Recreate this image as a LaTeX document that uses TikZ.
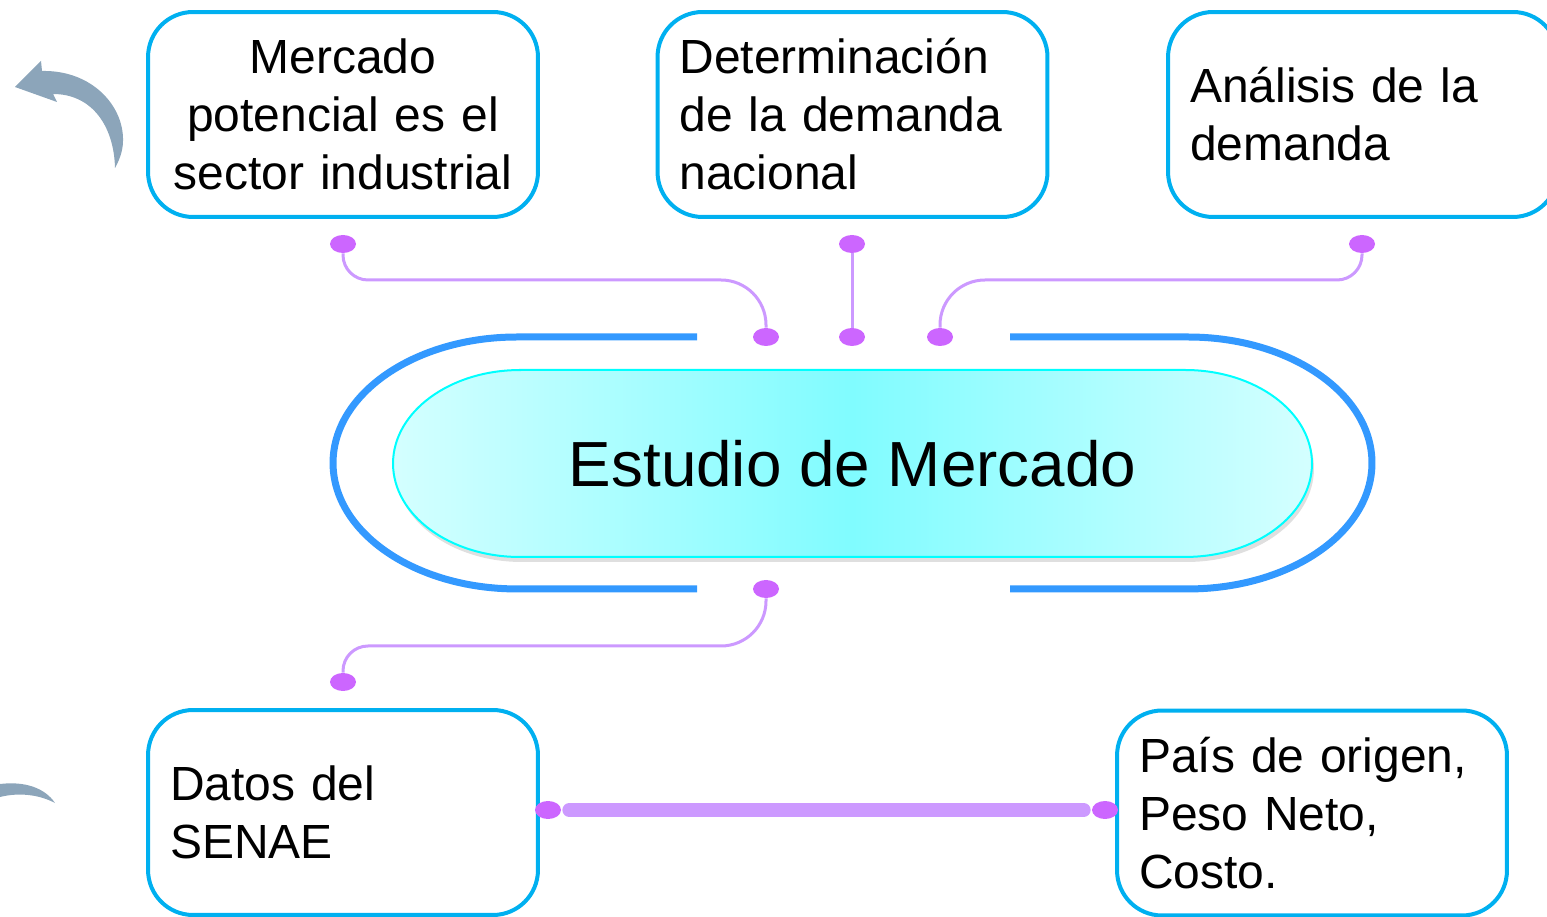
\documentclass[tikz,border=0pt]{standalone}
\usepackage{fontspec}
\setmainfont{Liberation Sans}
\usetikzlibrary{shapes.geometric,shadows}
\definecolor{boxblue}{RGB}{0,176,240}
\definecolor{ringblue}{RGB}{51,153,255}
\definecolor{dotpurple}{RGB}{204,102,255}
\definecolor{linkpurple}{RGB}{204,153,255}
\definecolor{arrowgray}{RGB}{140,165,186}
\definecolor{pilllight}{RGB}{212,255,255}
\definecolor{pillmid}{RGB}{128,252,255}
\definecolor{pilledge}{RGB}{0,255,255}
\tikzset{
  box/.style={draw=boxblue, line width=0.08cm, rounded corners=0.9cm, minimum width=7.8cm, minimum height=4.1cm, text width=6.92cm, inner sep=0.44cm, font=\fontsize{27.3}{33}\selectfont},
  dot/.style={ellipse, fill=dotpurple, minimum width=0.52cm, minimum height=0.36cm, inner sep=0pt},
  link/.style={draw=linkpurple, line width=0.06cm},
  bar/.style={draw=linkpurple, line width=0.28cm, line cap=round, shorten <=0.16cm, shorten >=0.16cm},
  ring/.style={draw=ringblue, line width=0.14cm},
}

\begin{document}
\begin{tikzpicture}[x=0.02cm, y=0.02cm]
		%%%%% START %%%%%
		\useasboundingbox (0,0) rectangle (1547,916);
		
		% top row
		\node[box, align=center] (potencial) at (343,801.5) {Mercado\\potencial es el\\sector industrial};
		\node[box, align=left] (nacional) at (852.5,801.5) {Determinación\\de la demanda\\nacional};
		\node[box, align=left] (analisis) at (1363,801.5) {Análisis de la\\demanda};
		
		% bottom row
		\node[box, align=left] (senae) at (343,103.5) {Datos del\\SENAE};
		\node[box, align=left] (origen) at (1312,103) {País de origen,\\Peso Neto,\\Costo.};
		
		% centre
		\draw[draw=pilledge, line width=0.04cm, left color=pilllight, right color=pilllight, middle color=pillmid,
		      drop shadow={shadow xshift=0.04cm, shadow yshift=-0.1cm, opacity=0.25}]
		      (520,546) -- (1185,546) arc[start angle=90, end angle=-90, x radius=2.54cm, y radius=1.87cm]
		      -- (520,359) arc[start angle=270, end angle=90, x radius=2.54cm, y radius=1.87cm] -- cycle;
		\node[font=\fontsize{36.3}{40}\selectfont] (estudio) at (852.5,452.5) {Estudio de Mercado};
		
		\draw[ring] (697,579) -- (517,579) arc[start angle=90, end angle=270, x radius=3.68cm, y radius=2.52cm] -- (697,327);
		\draw[ring] (1010,579) -- (1188,579) arc[start angle=90, end angle=-90, x radius=3.68cm, y radius=2.52cm] -- (1010,327);
		
		% dots
		\node[dot] (d1a) at (343,672) {};
		\node[dot] (d1b) at (766,579) {};
		\node[dot] (d2a) at (852,672) {};
		\node[dot] (d2b) at (852,579) {};
		\node[dot] (d3a) at (1362,672) {};
		\node[dot] (d3b) at (940,579) {};
		\node[dot] (d4a) at (766,327) {};
		\node[dot] (d4b) at (343,234) {};
		\node[dot] (d5a) at (548,106) {};
		\node[dot] (d5b) at (1105,106) {};
		
		\coordinate (h1) at (550,636);
		\coordinate (h3) at (1150,636);
		\coordinate (h4) at (550,270);
		
		% connectors
		\draw[link] (d1a.south) [rounded corners=0.5cm] |- (h1) [rounded corners=0.9cm] -| (d1b.north);
		\draw[link] (d2a) -- (d2b);
		\draw[link] (d3a.south) [rounded corners=0.5cm] |- (h3) [rounded corners=0.9cm] -| (d3b.north);
		\draw[link] (d4a.south) [rounded corners=0.9cm] |- (h4) [rounded corners=0.5cm] -| (d4b.north);
		\draw[bar] (d5a) -- (d5b);
		
		% curved arrows
		\fill[arrowgray] (15,829) -- (41,855) -- (42,845) .. controls (92,846) and (124,810) .. (123,775)
		      .. controls (123,765) and (119,755) .. (115,748) .. controls (114,790) and (92,822) .. (53,822) -- (57,814) -- cycle;
		\fill[arrowgray] (0,132) .. controls (25,135) and (45,128) .. (55,113) .. controls (40,121) and (20,124) .. (0,119) -- cycle;
		%%%%% END %%%%%
\end{tikzpicture}
\end{document}
